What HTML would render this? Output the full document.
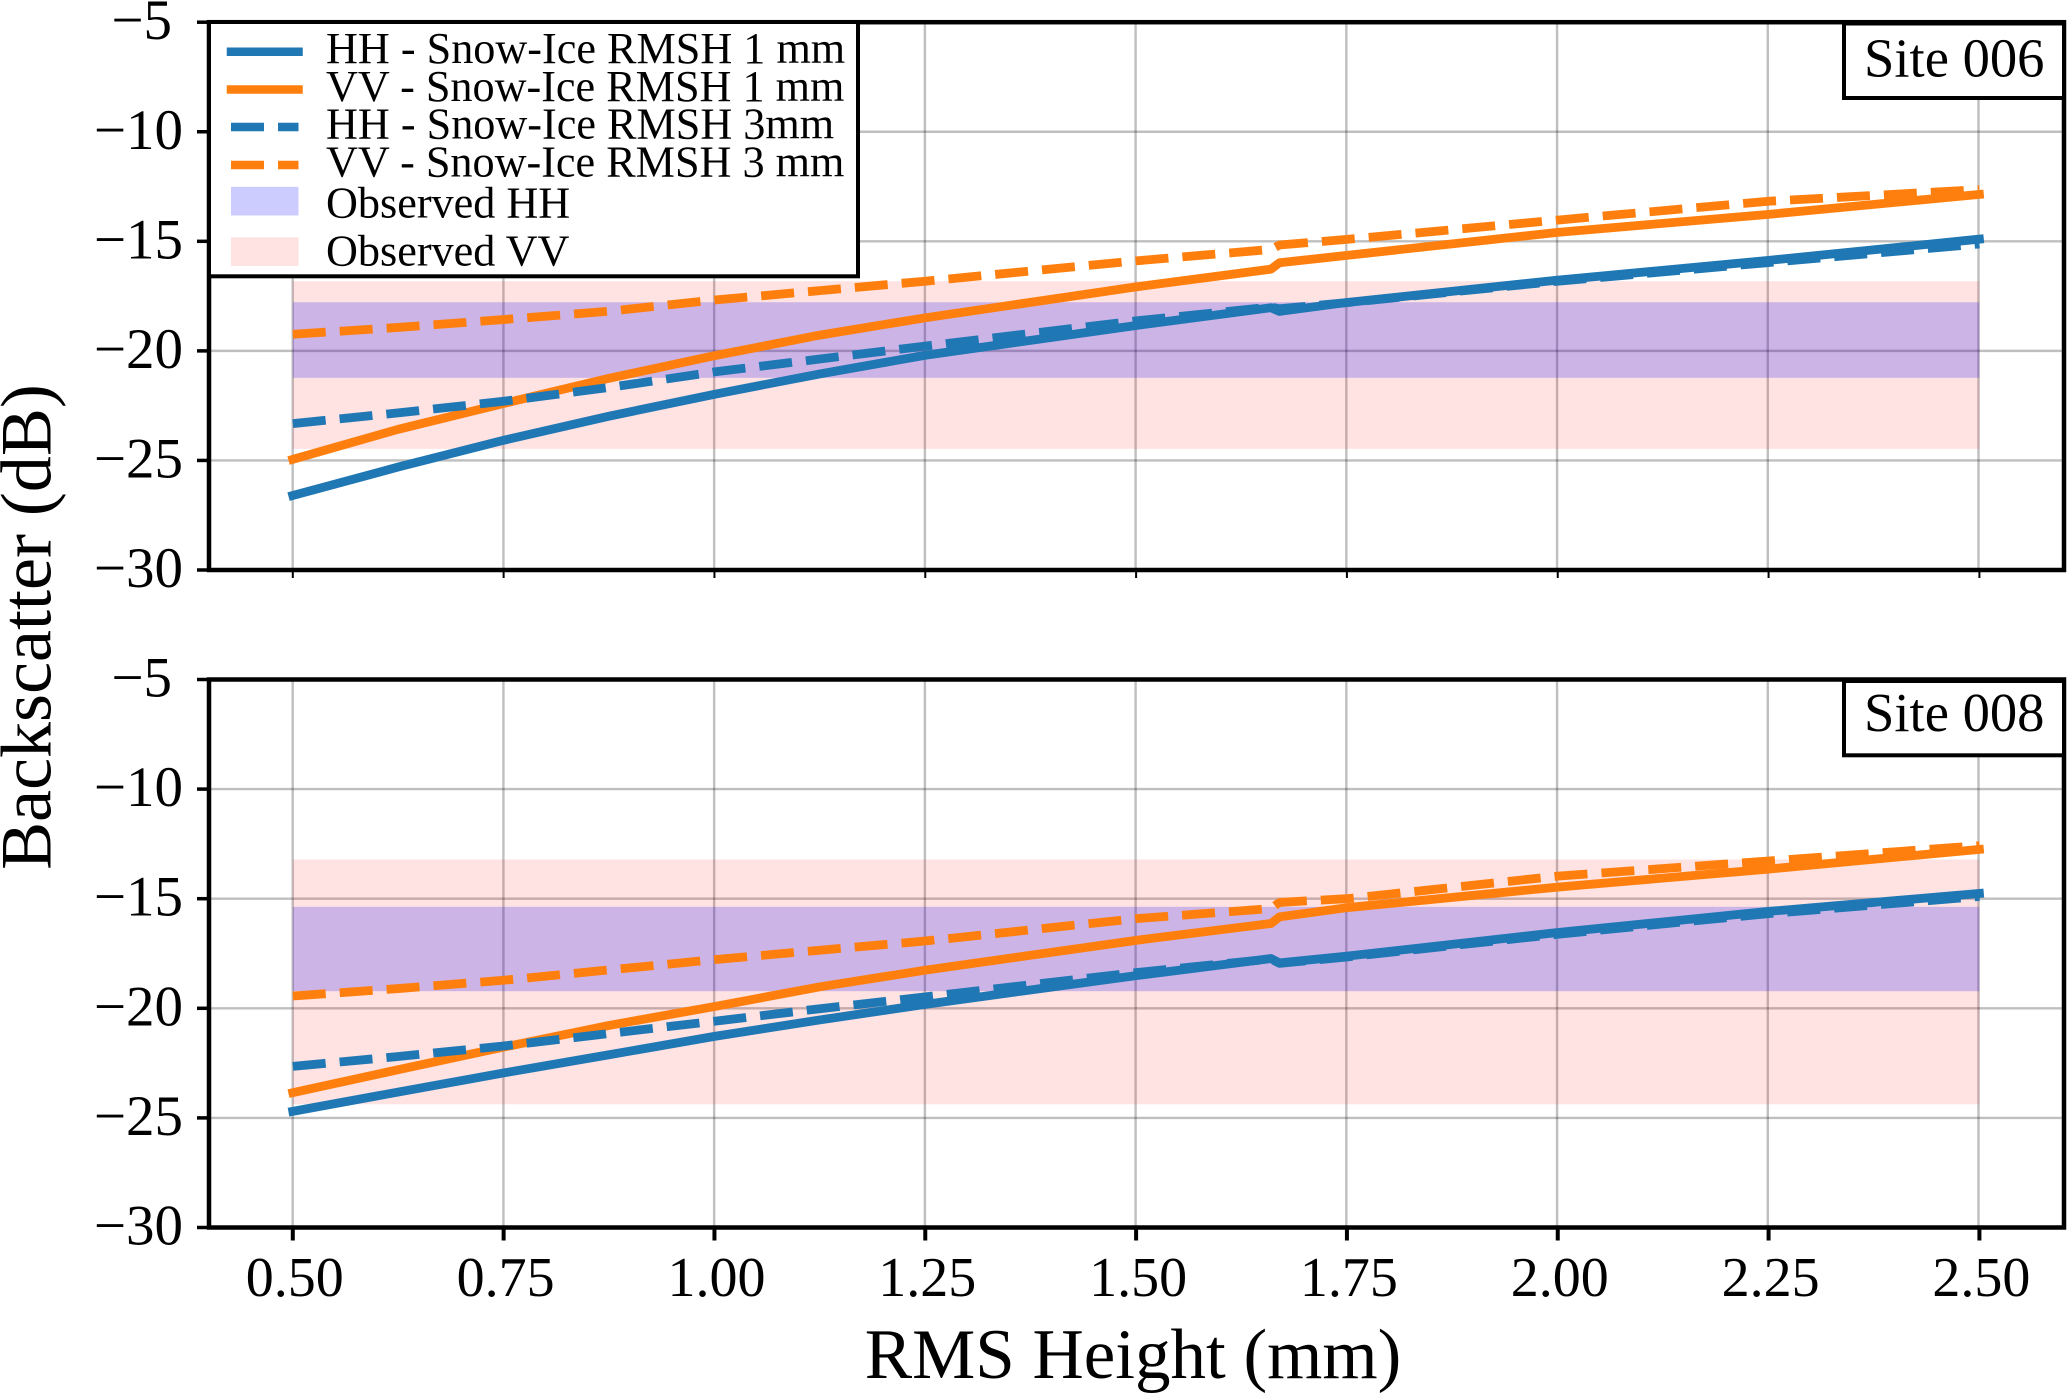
<!DOCTYPE html>
<html lang="en">
<head>
<meta charset="utf-8">
<title>Backscatter vs RMS Height</title>
<style>
html,body{margin:0;padding:0;background:#fff;width:2067px;height:1396px;overflow:hidden}
svg{display:block}
text{font-family:"Liberation Serif","Times New Roman",serif;fill:#000}
</style>
</head>
<body>
<svg id="chart" xmlns="http://www.w3.org/2000/svg" width="2067" height="1396" viewBox="0 0 2067 1396">
  <rect x="0" y="0" width="2067" height="1396" fill="#fff"/>
  <g id="panel-top"></g>
  <g id="panel-bottom"></g>

  <g>
    <rect x="209" y="22" width="649" height="254.3" fill="#fff" stroke="#000" stroke-width="4"/>
    <line x1="231" y1="51.7" x2="298.5" y2="51.7" stroke="#1f77b4" stroke-width="8.5" stroke-linecap="square"/>
    <text x="326" y="63" font-size="44.2">HH - Snow-Ice RMSH 1 mm</text>
    <line x1="231" y1="89.5" x2="298.5" y2="89.5" stroke="#ff7f0e" stroke-width="8.5" stroke-linecap="square"/>
    <text x="326" y="101" font-size="44.2">VV - Snow-Ice RMSH 1 mm</text>
    <line x1="231" y1="127" x2="298.5" y2="127" stroke="#1f77b4" stroke-width="8.5" stroke-dasharray="33 14"/>
    <text x="326" y="138.5" font-size="44.2">HH - Snow-Ice RMSH 3mm</text>
    <line x1="231" y1="165" x2="298.5" y2="165" stroke="#ff7f0e" stroke-width="8.5" stroke-dasharray="33 14"/>
    <text x="326" y="176.4" font-size="44.2">VV - Snow-Ice RMSH 3 mm</text>
    <rect x="231" y="186.8" width="67.5" height="28.7" fill="#ccccff"/>
    <text x="326" y="217.5" font-size="44.2">Observed HH</text>
    <rect x="231" y="237.3" width="67.5" height="28.7" fill="#ffe2e2"/>
    <text x="326" y="265.5" font-size="44.2">Observed VV</text>
  </g>

  <g>
    <rect x="1844" y="23.5" width="220" height="74.5" fill="#fff" stroke="#000" stroke-width="4"/>
    <text x="1864" y="76.5" font-size="54.6">Site 006</text>
  </g>
  <g>
    <rect x="1844" y="681" width="220" height="74.3" fill="#fff" stroke="#000" stroke-width="4"/>
    <text x="1864" y="731" font-size="54.6">Site 008</text>
  </g>

  <text transform="translate(50.5 627) rotate(-90)" text-anchor="middle" font-size="72">Backscatter (dB)</text>
  <text x="1133" y="1378" text-anchor="middle" font-size="71">RMS Height (mm)</text>
</svg>

<script>
const xTicks = [0.5, 0.75, 1.0, 1.25, 1.5, 1.75, 2.0, 2.25, 2.5];
const xTickLabels = ["0.50", "0.75", "1.00", "1.25", "1.50", "1.75", "2.00", "2.25", "2.50"];
const yTicks = [-5, -10, -15, -20, -25, -30];
const yTickLabels = ["\u22125", "\u221210", "\u221215", "\u221220", "\u221225", "\u221230"];

const rmsHeight = [0.5, 0.625, 0.75, 0.875, 1.0, 1.125, 1.25, 1.5, 1.66, 1.67, 1.75, 2.0, 2.25, 2.5];

const site006Hh1mm = [-26.6, -25.3, -24.08, -22.98, -21.98, -21.05, -20.2, -18.84, -18.03, -18.2, -17.79, -16.77, -15.87, -14.9];
const site006Vv1mm = [-24.95, -23.58, -22.4, -21.25, -20.22, -19.28, -18.49, -17.08, -16.27, -15.98, -15.64, -14.59, -13.77, -12.86];
const site006Hh3mm = [-23.32, -22.83, -22.3, -21.67, -20.96, -20.37, -19.78, -18.63, -18.0, -18.08, -17.8, -16.82, -15.97, -15.12];
const site006Vv3mm = [-19.24, -18.93, -18.57, -18.19, -17.68, -17.25, -16.82, -15.89, -15.37, -15.17, -14.91, -14.03, -13.17, -12.64];
const site006ObservedHh = [-17.78, -21.23];
const site006ObservedVv = [-16.82, -24.47];

const site008Hh1mm = [-24.7, -23.82, -22.95, -22.12, -21.28, -20.53, -19.82, -18.51, -17.73, -17.93, -17.62, -16.54, -15.58, -14.76];
const site008Vv1mm = [-23.85, -22.8, -21.77, -20.78, -19.92, -19.02, -18.26, -16.9, -16.13, -15.83, -15.41, -14.47, -13.65, -12.75];
const site008Hh3mm = [-22.65, -22.2, -21.72, -21.15, -20.59, -20.02, -19.48, -18.37, -17.75, -17.95, -17.66, -16.62, -15.68, -14.9];
const site008Vv3mm = [-19.44, -19.1, -18.72, -18.25, -17.78, -17.35, -16.93, -15.91, -15.45, -15.17, -15.0, -13.97, -13.28, -12.58];
const site008ObservedHh = [-15.37, -19.22];
const site008ObservedVv = [-13.21, -24.38];

const NS = "http://www.w3.org/2000/svg";
const AXIS_LEFT = 209, AXIS_RIGHT = 2064;

function xScale(v) { return 292.8 + (v - 0.5) * 843.3; }
function gridX(v) { return 292.7 + (v - 0.5) * 842.9; }

function mk(parent, tag, attrs) {
  const el = document.createElementNS(NS, tag);
  for (const k in attrs) el.setAttribute(k, attrs[k]);
  parent.appendChild(el);
  return el;
}

function drawPanel(root, slug, top, bottom, tickLen, tickW, hh1, vv1, hh3, vv3, obsHh, obsVv, showX) {
  const yScale = v => top + (-5 - v) * (bottom - top) / 25;

  xTicks.forEach(function (t) {
    const g = mk(root, "line", { x1: gridX(t), x2: gridX(t), y1: top, y2: bottom, stroke: "#000", "stroke-opacity": 0.25, "stroke-width": 2.4 });
    
    
  });
  yTicks.forEach(function (t) {
    const g = mk(root, "line", { x1: AXIS_LEFT, x2: AXIS_RIGHT, y1: yScale(t), y2: yScale(t), stroke: "#000", "stroke-opacity": 0.25, "stroke-width": 2.4 });
    
    
  });

  const bandVv = mk(root, "rect", { x: xScale(0.5), width: xScale(2.5) - xScale(0.5), y: yScale(obsVv[0]), height: yScale(obsVv[1]) - yScale(obsVv[0]), fill: "#ff0000", "fill-opacity": 0.113 });
  
  
  const bandHh = mk(root, "rect", { x: xScale(0.5), width: xScale(2.5) - xScale(0.5), y: yScale(obsHh[0]), height: yScale(obsHh[1]) - yScale(obsHh[0]), fill: "#0000ff", "fill-opacity": 0.2 });
  
  

  function pathOf(values) {
    return values.map(function (v, i) {
      return (i ? "L" : "M") + xScale(rmsHeight[i]).toFixed(2) + " " + yScale(v).toFixed(2);
    }).join(" ");
  }

  const lineHh1 = mk(root, "path", { d: pathOf(hh1), fill: "none", stroke: "#1f77b4", "stroke-width": 8.8, "stroke-linecap": "square", "stroke-linejoin": "round" });
  
  
  const lineVv1 = mk(root, "path", { d: pathOf(vv1), fill: "none", stroke: "#ff7f0e", "stroke-width": 8.8, "stroke-linecap": "square", "stroke-linejoin": "round" });
  
  
  const lineHh3 = mk(root, "path", { d: pathOf(hh3), fill: "none", stroke: "#1f77b4", "stroke-width": 8.8, "stroke-dasharray": "33 14", "stroke-linejoin": "round" });
  
  
  const lineVv3 = mk(root, "path", { d: pathOf(vv3), fill: "none", stroke: "#ff7f0e", "stroke-width": 8.8, "stroke-dasharray": "33 14", "stroke-linejoin": "round" });
  
  

  const frame = mk(root, "rect", { x: AXIS_LEFT, y: top, width: AXIS_RIGHT - AXIS_LEFT, height: bottom - top, fill: "none", stroke: "#000", "stroke-width": 4.5 });
  
  

  yTicks.forEach(function (t, i) {
    const tick = mk(root, "line", { x1: 197, x2: AXIS_LEFT, y1: yScale(t), y2: yScale(t), stroke: "#000", "stroke-width": 3.5 });
    
    
    const lab = mk(root, "text", { x: t === -5 ? 172 : 183, y: yScale(t) + 17, "text-anchor": "end", "font-size": 57 });
    
    
    lab.textContent = yTickLabels[i];
  });

  xTicks.forEach(function (t, i) {
    const tick = mk(root, "line", { x1: xScale(t), x2: xScale(t), y1: bottom, y2: bottom + tickLen, stroke: "#000", "stroke-width": tickW });
    
    
    if (showX) {
      const lab = mk(root, "text", { x: xScale(t) + 2, y: 1296, "text-anchor": "middle", "font-size": 56 });
      
      
      lab.textContent = xTickLabels[i];
    }
  });
}

drawPanel(document.getElementById("panel-top"), "site-006", 22.2, 570, 8, 2, site006Hh1mm, site006Vv1mm, site006Hh3mm, site006Vv3mm, site006ObservedHh, site006ObservedVv, false);
drawPanel(document.getElementById("panel-bottom"), "site-008", 679.5, 1227.5, 13, 4, site008Hh1mm, site008Vv1mm, site008Hh3mm, site008Vv3mm, site008ObservedHh, site008ObservedVv, true);
</script>
</body>
</html>
